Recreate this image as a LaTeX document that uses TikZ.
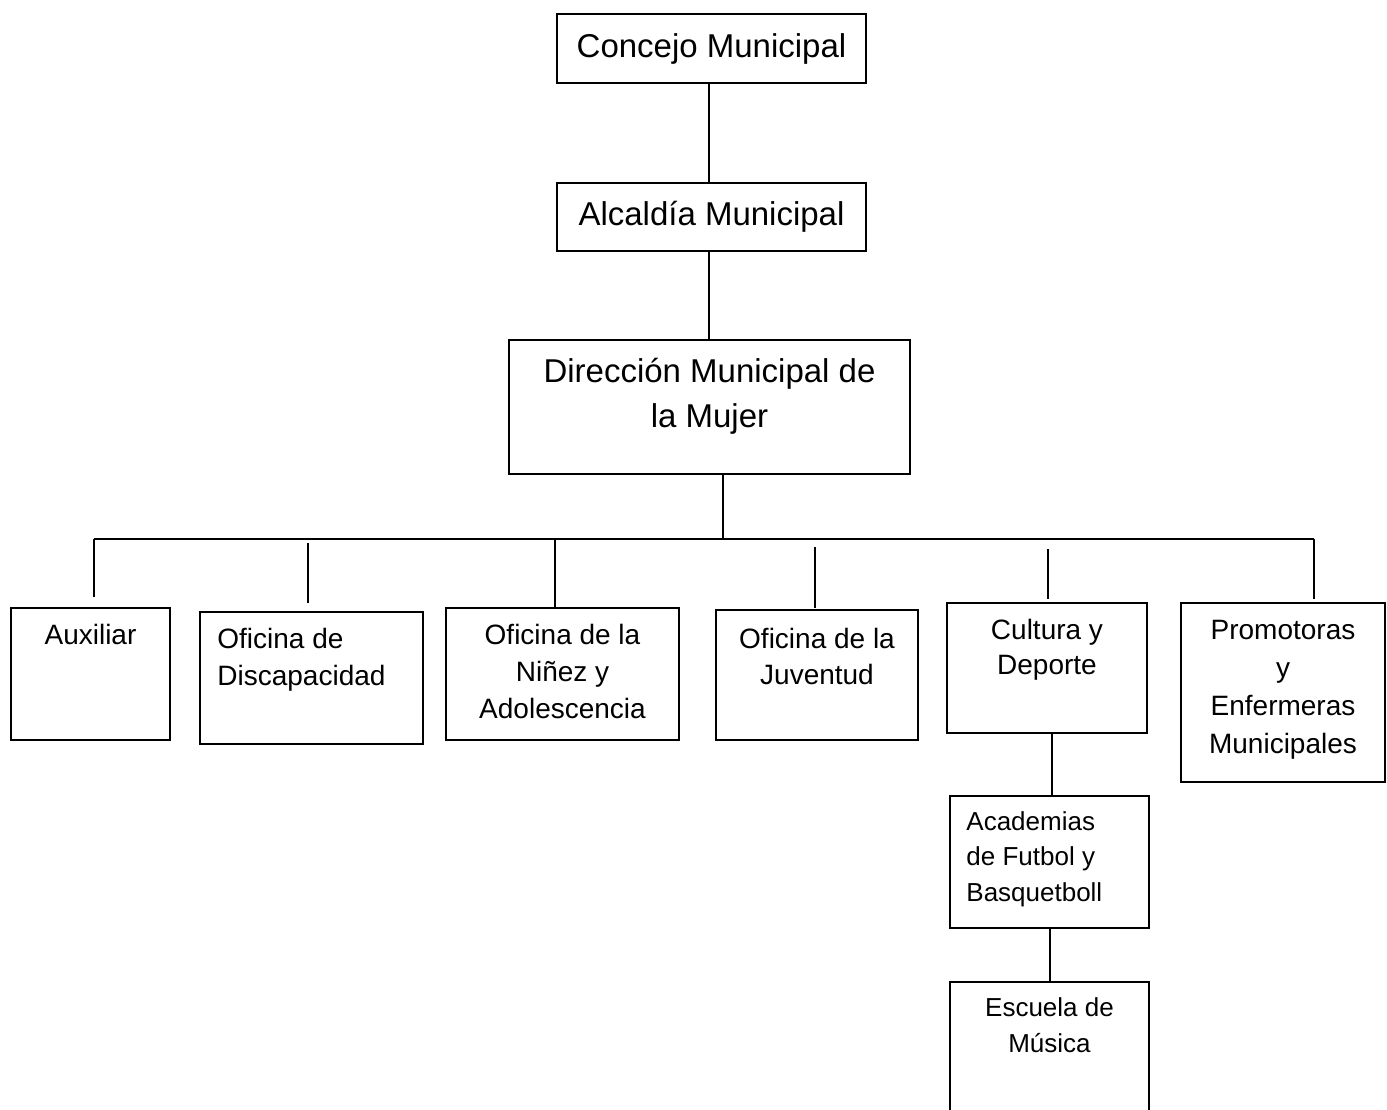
\documentclass[tikz,border=0pt]{standalone}
\usepackage{fontspec}
\setmainfont{Liberation Sans}
\usetikzlibrary{positioning}

\begin{document}
\begin{tikzpicture}[
    x=1pt, y=-1pt,
    unitbox/.style={rectangle, draw=black, line width=1.6pt, inner sep=0pt},
    headtext/.style={font=\fontsize{33}{45}\selectfont, align=center},
    midtext/.style={anchor=north, inner sep=0pt, yshift=-17pt, align=center, font=\fontsize{28}{37}\selectfont},
    lefttext/.style={anchor=north west, inner sep=0pt, xshift=18pt, yshift=-17pt, align=left, font=\fontsize{28}{37}\selectfont},
    link/.style={draw=black, line width=1.6pt}
    ]
        \useasboundingbox (0,0) rectangle (1387,1110);

        %Nodes
        \node[unitbox, headtext, minimum width=309pt, minimum height=69pt]
            (concejo)   at (711.5,48.5)   {Concejo Municipal};
        \node[unitbox, headtext, minimum width=309pt, minimum height=68pt]
            (alcaldia)  at (711.5,217)    {Alcaldía Municipal};
        \node[unitbox, minimum width=401pt, minimum height=134pt,
            label={[midtext, yshift=-2pt, font=\fontsize{33}{45}\selectfont]north:Dirección Municipal de\\la Mujer}]
            (direccion) at (709.5,407)    {};

        \node[unitbox, minimum width=159pt, minimum height=132pt,
            label={[midtext]north:Auxiliar}]
            (aux)       at (90.5,674)     {};
        \node[unitbox, minimum width=223pt, minimum height=132pt,
            label={[lefttext]north west:Oficina de\\Discapacidad}]
            (disc)      at (311.5,678)    {};
        \node[unitbox, minimum width=233pt, minimum height=132pt,
            label={[midtext]north:Oficina de la\\Niñez y\\Adolescencia}]
            (ninez)     at (562.5,674)    {};
        \node[unitbox, minimum width=202pt, minimum height=130pt,
            label={[midtext, yshift=-2pt, font=\fontsize{28}{36}\selectfont]north:Oficina de la\\Juventud}]
            (juventud)  at (817,675)      {};
        \node[unitbox, minimum width=200pt, minimum height=130pt,
            label={[midtext, font=\fontsize{28}{35}\selectfont]north:Cultura y\\Deporte}]
            (cultura)   at (1047,668)     {};
        \node[unitbox, minimum width=204pt, minimum height=179pt,
            label={[midtext, yshift=-1pt, font=\fontsize{28}{38}\selectfont]north:Promotoras\\y\\Enfermeras\\Municipales}]
            (promotoras) at (1283,692.5)  {};

        \node[unitbox, minimum width=199pt, minimum height=132pt,
            label={[lefttext, xshift=-1pt, yshift=1pt, font=\fontsize{26}{35.5}\selectfont]north west:Academias\\de Futbol y\\Basquetboll}]
            (academias) at (1049.5,862)   {};
        \node[unitbox, minimum width=199pt, minimum height=143pt,
            label={[midtext, yshift=1pt, font=\fontsize{26}{36}\selectfont]north:Escuela de\\Música}]
            (escuela)   at (1049.5,1053.5) {};

        %Bus
        \coordinate (hub) at (723,539);
        \coordinate (stem) at (709,300);
        \coordinate (d1)  at (94,539);
        \coordinate (d2)  at (308,539);
        \coordinate (d3)  at (555,539);
        \coordinate (d4)  at (815,539);
        \coordinate (d5)  at (1048,539);
        \coordinate (d6)  at (1314,539);

        %Lines
        \draw[link] (concejo.south -| stem) -- (alcaldia.north -| stem);
        \draw[link] (alcaldia.south -| stem) -- (direccion.north -| stem);
        \draw[link] (direccion.south -| hub) -- (hub);
        \draw[link] (d1) -- (d6);
        \draw[link, shorten >=10pt]
            (d1) -- (d1 |- aux.north);
        \draw[link, shorten <=4pt, shorten >=8pt]
            (d2) -- (d2 |- disc.north);
        \draw[link]
            (d3) -- (d3 |- ninez.north);
        \draw[link, shorten <=8pt, shorten >=1pt]
            (d4) -- (d4 |- juventud.north);
        \draw[link, shorten <=10pt, shorten >=3pt]
            (d5) -- (d5 |- cultura.north);
        \draw[link, shorten >=3pt]
            (d6) -- (d6 |- promotoras.north);
        \draw[link]
            ([xshift=5pt]cultura.south) -- ([xshift=5pt]cultura.south |- academias.north);
        \draw[link]
            ([xshift=0.5pt]academias.south) -- ([xshift=0.5pt]escuela.north);
    \end{tikzpicture}
\end{document}
